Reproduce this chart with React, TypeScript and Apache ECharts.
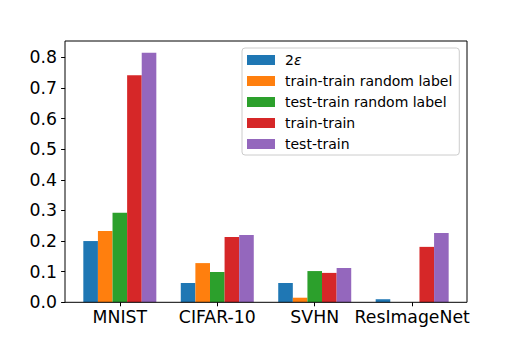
import React, { useEffect, useRef } from "react";
import * as echarts from "echarts";

const categories = ["MNIST", "CIFAR-10", "SVHN", "ResImageNet"];
const seriesNames = ["2ε", "train-train random label", "test-train random label", "train-train", "test-train"];
const eps2 = [0.2, 0.063, 0.063, 0.01];
const trainTrainRandom = [0.233, 0.128, 0.015, 0];
const testTrainRandom = [0.292, 0.099, 0.102, 0];
const trainTrain = [0.741, 0.213, 0.096, 0.181];
const testTrain = [0.815, 0.22, 0.112, 0.226];
const yTicks = [0, 0.1, 0.2, 0.3, 0.4, 0.5, 0.6, 0.7, 0.8];

const colors = ["#1f77b4", "#ff7f0e", "#2ca02c", "#d62728", "#9467bd"];
const FONT = "DejaVu Sans";

export default function App() {
  const ref = useRef<HTMLDivElement>(null);
  useEffect(() => {
    if (!ref.current) return;
    const chart = echarts.init(ref.current, null, { renderer: "svg" });
    const allData = [eps2, trainTrainRandom, testTrainRandom, trainTrain, testTrain];
    chart.setOption({
      animation: false,
      color: colors,
      textStyle: { fontFamily: FONT },
      grid: { left: 71.1, right: 57.1, top: 57.3, bottom: 42.7 },
      graphic: [
        {
          type: "rect",
          shape: { x: 65, y: 41, width: 402, height: 261.3 },
          style: { fill: "none", stroke: "#000", lineWidth: 1 },
          silent: true,
          z: 10,
        },
      ],
      legend: {
        orient: "vertical",
        left: 242,
        top: 48,
        padding: [5, 7, 4, 5],
        itemWidth: 28,
        itemHeight: 10,
        itemGap: 7,
        icon: "rect",
        backgroundColor: "rgba(255,255,255,0.8)",
        borderColor: "#cccccc",
        borderWidth: 1,
        borderRadius: 3,
        data: seriesNames,
        formatter: (name: string) => (name === "2ε" ? "2{i|ε}" : name),
        textStyle: {
          fontFamily: FONT,
          fontSize: 14,
          lineHeight: 14,
          color: "#000",
          padding: [0, 0, 0, 5],
          rich: {
            i: { fontFamily: FONT, fontSize: 14, fontStyle: "italic", color: "#000" },
          },
        },
      },
      xAxis: {
        type: "category",
        data: categories,
        axisLine: { show: false },
        axisTick: { show: true, alignWithLabel: true, length: 4, lineStyle: { color: "#000" } },
        axisLabel: { interval: 0, fontFamily: FONT, fontSize: 17.3, color: "#000", margin: 6 },
      },
      yAxis: {
        type: "value",
        min: 0,
        max: 0.8,
        interval: 0.1,
        offset: 6,
        splitLine: { show: false },
        axisLine: { show: false },
        axisTick: { show: true, length: 4, lineStyle: { color: "#000" } },
        axisLabel: {
          fontFamily: FONT,
          fontSize: 17.3,
          color: "#000",
          margin: 8,
          formatter: (v: number) => (yTicks.some((t) => Math.abs(t - v) < 1e-6) ? v.toFixed(1) : ""),
        },
      },
      series: seriesNames.map((name, i) => ({
        name,
        type: "bar",
        data: allData[i],
        barWidth: 14.6,
        barGap: "0%",
        clip: false,
        itemStyle: { color: colors[i] },
      })),
    });
    return () => chart.dispose();
  }, []);
  return (
    <div
      ref={ref}
      style={{ position: "fixed", left: 0, top: 0, width: 518, height: 345, background: "#fff" }}
    />
  );
}
